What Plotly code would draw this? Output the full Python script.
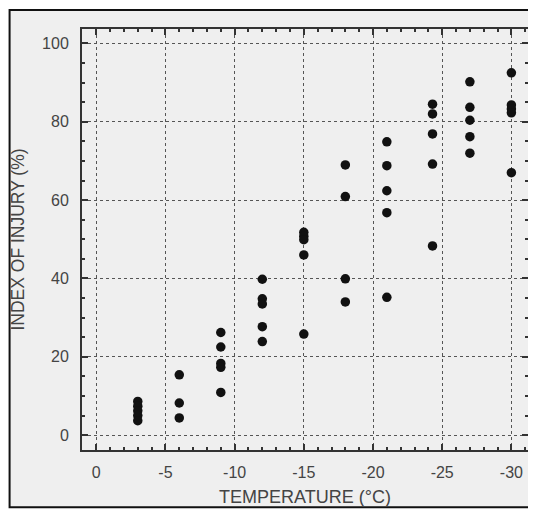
import plotly.graph_objects as go

# Temperature columns (°C) and index of injury (%) values
temp_m3 = [-3, -3, -3, -3, -3]
inj_m3 = [8.6, 7.4, 6.2, 5.0, 3.7]
temp_m6 = [-6, -6, -6]
inj_m6 = [15.4, 8.2, 4.4]
temp_m9 = [-9, -9, -9, -9, -9]
inj_m9 = [26.2, 22.5, 18.3, 17.3, 10.9]
temp_m12 = [-12, -12, -12, -12, -12]
inj_m12 = [39.8, 34.8, 33.5, 27.7, 23.9]
temp_m15 = [-15, -15, -15, -15, -15]
inj_m15 = [51.8, 50.8, 49.9, 46.0, 25.8]
temp_m18 = [-18, -18, -18, -18]
inj_m18 = [69.0, 60.9, 39.9, 34.0]
temp_m21 = [-21, -21, -21, -21, -21]
inj_m21 = [74.9, 68.8, 62.4, 56.8, 35.2]
temp_m24 = [-24.3, -24.3, -24.3, -24.3, -24.3]
inj_m24 = [84.5, 82.0, 76.9, 69.2, 48.3]
temp_m27 = [-27, -27, -27, -27, -27]
inj_m27 = [90.2, 83.7, 80.4, 76.2, 72.0]
temp_m30 = [-30, -30, -30, -30, -30]
inj_m30 = [92.5, 84.3, 83.3, 82.3, 67.0]

x_tickvals = [0, -5, -10, -15, -20, -25, -30]
x_ticktext = ["0", "-5", "-10", "-15", "-20", "-25", "-30"]
y_tickvals = [0, 20, 40, 60, 80, 100]
y_ticktext = ["0", "20", "40", "60", "80", "100"]

xs = temp_m3 + temp_m6 + temp_m9 + temp_m12 + temp_m15 + temp_m18 + temp_m21 + temp_m24 + temp_m27 + temp_m30
ys = inj_m3 + inj_m6 + inj_m9 + inj_m12 + inj_m15 + inj_m18 + inj_m21 + inj_m24 + inj_m27 + inj_m30

fig = go.Figure()
fig.add_trace(go.Scatter(
    x=xs, y=ys, mode="markers",
    marker=dict(color="#111111", size=9.5, line=dict(width=0)),
    showlegend=False, hoverinfo="skip",
))

font_main = "Liberation Sans, Arial, sans-serif"
axis_common = dict(
    showline=True, linecolor="#333333", linewidth=2, mirror="allticks",
    ticks="inside", ticklen=6, tickwidth=1.5, tickcolor="#333333",
    showgrid=True, gridcolor="#555555", griddash="dot", gridwidth=1,
    zeroline=False, automargin=False,
    tickfont=dict(family=font_main, size=16, color="#444444"),
)

fig.update_xaxes(
    range=[1.03, -31.2], tickmode="array", tickvals=x_tickvals, ticktext=x_ticktext,
    minor=dict(dtick=1, tick0=0, ticks="inside", ticklen=3, tickcolor="#333333", showgrid=False),
    title=dict(text="TEMPERATURE (°C)", font=dict(family=font_main, size=18, color="#444444"), standoff=10),
    ticklabelstandoff=7,
    **axis_common,
)
fig.update_yaxes(
    range=[-3.8, 103.7], tickmode="array", tickvals=y_tickvals, ticktext=y_ticktext,
    minor=dict(dtick=5, tick0=0, ticks="inside", ticklen=3, tickcolor="#333333", showgrid=False),
    title=dict(text="INDEX OF INJURY (%)", font=dict(family=font_main, size=17.5, color="#444444"), standoff=14),
    ticklabelstandoff=8,
    **axis_common,
)

# the page body adds an 8 px offset, so the figure is sized to fill the rest
W, H = 528, 502
ml, mr, mt, mb = 73.5, 8, 20.5, 59.5
pw, ph = W - ml - mr, H - mt - mb

def px_to_paper_x(px):
    return (px - ml) / pw

def px_to_paper_y(py):
    return (H - mb - py) / ph

fig.add_shape(
    type="rect", xref="paper", yref="paper", layer="below",
    x0=px_to_paper_x(1), x1=px_to_paper_x(527),
    y0=px_to_paper_y(500), y1=px_to_paper_y(1.5),
    fillcolor="#efefef", line=dict(color="#111111", width=2),
)

fig.update_layout(
    width=W, height=H,
    margin=dict(l=ml, r=mr, t=mt, b=mb, pad=0),
    paper_bgcolor="white", plot_bgcolor="rgba(0,0,0,0)",
    font=dict(family=font_main),
)

fig.write_html("out.html")
